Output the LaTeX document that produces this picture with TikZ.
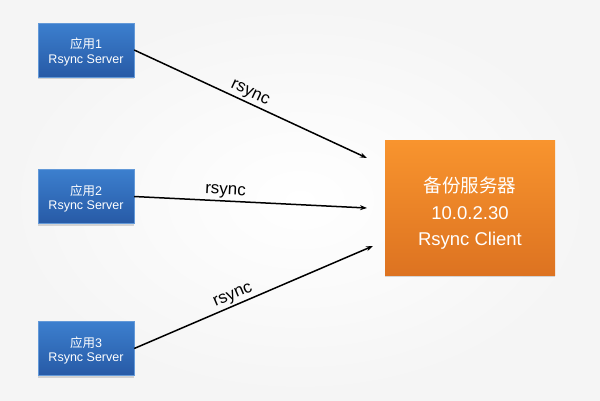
\documentclass[tikz,border=0pt]{standalone}
\usepackage{fontspec}
\setmainfont{Liberation Sans}
\newfontfamily\cjk{Noto Sans CJK SC}
\usetikzlibrary{arrows.meta,shadows}
\definecolor{apptop}{RGB}{60,127,206}
\definecolor{appbot}{RGB}{39,90,166}
\definecolor{srvtop}{RGB}{248,148,46}
\definecolor{srvbot}{RGB}{221,115,33}
\begin{document}
\begin{tikzpicture}[x=1pt,y=-1pt,
    app/.style={rectangle,minimum width=96pt,minimum height=54pt,inner sep=0pt,
      top color=apptop,bottom color=appbot,draw=apptop!80!white,line width=.4pt,
      drop shadow={opacity=.3,shadow xshift=0pt,shadow yshift=-2pt}},
    apptext/.style={text=white,align=center,yshift=-2pt,
      font=\fontsize{12.5}{14.5}\selectfont},
    srv/.style={rectangle,minimum width=170pt,minimum height=135pt,inner sep=0pt,
      top color=srvtop,bottom color=srvbot,
      drop shadow={opacity=.3,shadow xshift=0pt,shadow yshift=-2pt}},
    srvtext/.style={text=white,align=center,yshift=-6pt,
      font=\fontsize{18.5}{26.5}\selectfont},
    link/.style={-{Stealth[length=7pt,width=5pt]},line width=1.5pt},
    lbl/.style={font=\fontsize{17}{17}\selectfont,sloped,above,inner sep=2pt}]
  \useasboundingbox[shading=radial,inner color=white,outer color=black!4]
    (0,0) rectangle (600,400);
  \node[app,label={[apptext]center:{\cjk 应用}1\\Rsync Server}] (app1) at (86,50) {};
  \node[app,label={[apptext]center:{\cjk 应用}2\\Rsync Server}] (app2) at (86,196.5) {};
  \node[app,label={[apptext]center:{\cjk 应用}3\\Rsync Server}] (app3) at (86,348.5) {};
  \node[srv,label={[srvtext]center:{\cjk 备份服务器}\\10.0.2.30\\Rsync Client}] (backup) at (470,207.5) {};
  \coordinate (in1) at (367,158);
  \coordinate (in2) at (367,208);
  \coordinate (in3) at (373,246);
  \draw[link] (app1.east) -- node[lbl,pos=.48] {rsync} (in1);
  \draw[link] (app2.east) -- node[lbl,pos=.39] {rsync} (in2);
  \draw[link] (app3.east) -- node[lbl,pos=.43] {rsync} (in3);
\end{tikzpicture}
\end{document}
